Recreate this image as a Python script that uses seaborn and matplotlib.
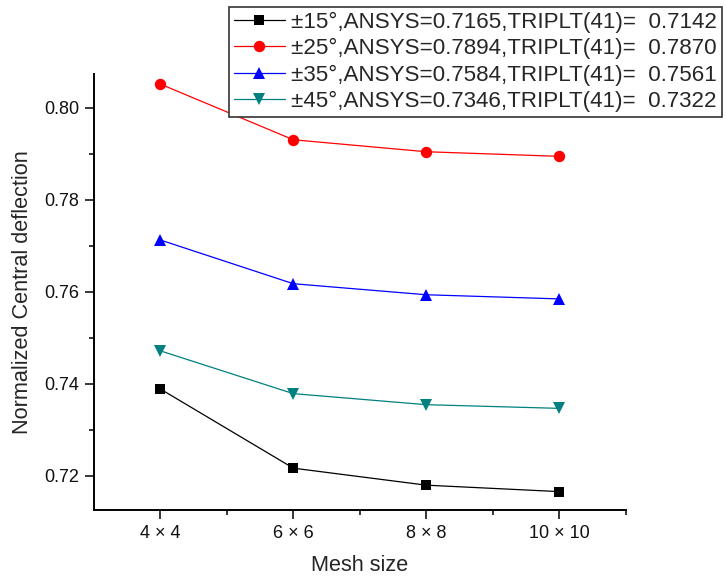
import matplotlib
matplotlib.use("Agg")
import matplotlib.pyplot as plt
from matplotlib.ticker import MultipleLocator, FixedLocator, FormatStrFormatter
import seaborn as sns

# Mesh refinement levels (n × n elements)
mesh_n = [4, 6, 8, 10]
mesh_labels = ["4 × 4", "6 × 6", "8 × 8", "10 × 10"]

series_names = [
    "±15°,ANSYS=0.7165,TRIPLT(41)=  0.7142",
    "±25°,ANSYS=0.7894,TRIPLT(41)=  0.7870",
    "±35°,ANSYS=0.7584,TRIPLT(41)=  0.7561",
    "±45°,ANSYS=0.7346,TRIPLT(41)=  0.7322",
]
deflection_15 = [0.7388, 0.7216, 0.7179, 0.7165]
deflection_25 = [0.8051, 0.7930, 0.7904, 0.7894]
deflection_35 = [0.7712, 0.7617, 0.7593, 0.7584]
deflection_45 = [0.7471, 0.7378, 0.7354, 0.7346]

colors = ["#000000", "#FF0000", "#0000FF", "#008080"]
marker_shapes = ["s", "o", "^", "v"]
marker_sizes = [7.2, 8.2, 8.8, 8.8]

sns.set_theme(style="ticks")
plt.rcParams["font.family"] = ["Liberation Sans", "DejaVu Sans"]

fig = plt.figure(figsize=(7.26, 5.77), dpi=100)
ax = fig.add_axes([94 / 726, 1 - 510 / 577, (625.5 - 94) / 726, (510 - 74) / 577])

for name, vals, c, m, ms in zip(
        series_names,
        [deflection_15, deflection_25, deflection_35, deflection_45],
        colors, marker_shapes, marker_sizes):
    sns.lineplot(x=mesh_n, y=vals, color=c, marker=m, markersize=ms,
                 markeredgewidth=0, linewidth=0.9, label=name, ax=ax)

ax.set_xlim(3, 11)
ax.set_ylim(0.7125, 0.8073)
ax.xaxis.set_major_locator(FixedLocator(mesh_n))
ax.set_xticklabels(mesh_labels)
ax.xaxis.set_minor_locator(FixedLocator([5, 7, 9, 11]))
ax.yaxis.set_major_locator(MultipleLocator(0.02))
ax.yaxis.set_minor_locator(MultipleLocator(0.01))
ax.yaxis.set_major_formatter(FormatStrFormatter("%.2f"))

sns.despine(ax=ax)
for side in ("left", "bottom"):
    ax.spines[side].set_linewidth(1.4)
    ax.spines[side].set_color("black")
ax.tick_params(which="major", direction="out", length=6.5, width=1.1,
               color="black", labelsize=13, pad=4, labelcolor="#111111")
ax.tick_params(which="minor", direction="out", length=3.5, width=1.1,
               color="black")

ax.set_xlabel("Mesh size", fontsize=15.6, labelpad=9.5)
ax.set_ylabel("Normalized Central deflection", fontsize=15.6, labelpad=8)

handles, labels = ax.get_legend_handles_labels()
ax.get_legend().remove()
leg = fig.legend(
    handles, labels, loc="upper right",
    bbox_to_anchor=(721.7 / 726, 1 - 6.7 / 577),
    fontsize=16.1, frameon=True, fancybox=False,
    handlelength=2.3, handletextpad=0.26, labelspacing=0.24,
    borderpad=0.22, borderaxespad=0,
)
leg.get_frame().set_edgecolor("#333333")
leg.get_frame().set_linewidth(1.2)
leg.get_frame().set_alpha(1)

fig.savefig("out.png", dpi=100)
